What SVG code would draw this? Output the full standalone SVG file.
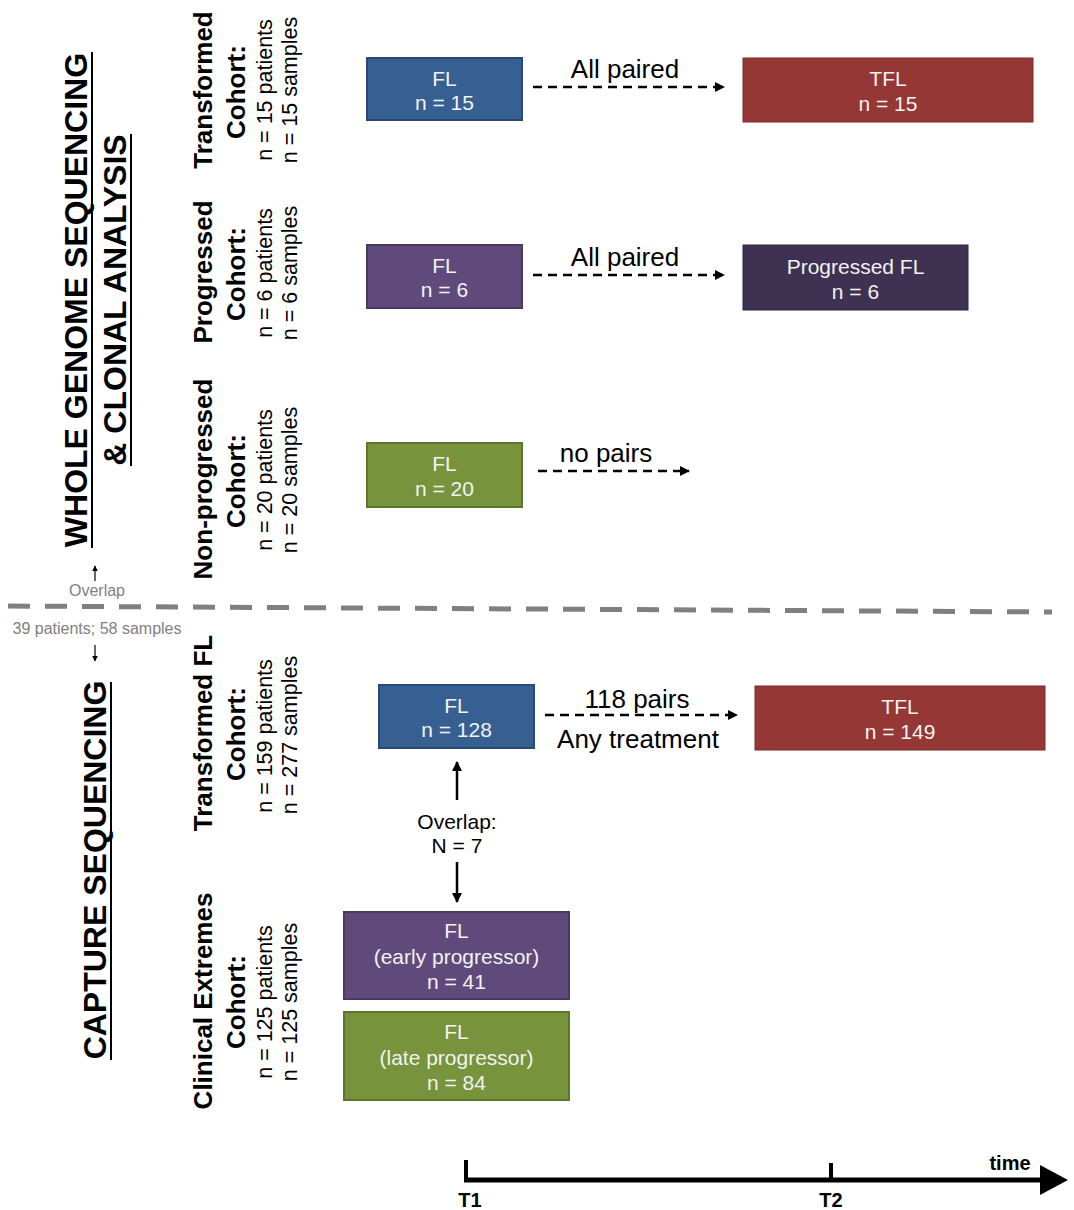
<svg xmlns="http://www.w3.org/2000/svg" width="1074" height="1210" viewBox="0 0 1074 1210">
<defs>
<style>
text{font-family:"Liberation Sans",Arial,sans-serif;}
.title{font-size:32px;font-weight:bold;fill:#000;text-anchor:middle;}
.coh{font-size:26px;font-weight:bold;fill:#000;text-anchor:middle;}
.cnt{font-size:21.5px;fill:#000;text-anchor:middle;}
.bt{font-size:21px;fill:#f2f2f2;text-anchor:middle;}
.lab{font-size:26px;fill:#000;text-anchor:middle;}
.gray{font-size:16px;fill:#808080;text-anchor:middle;}
.ov{font-size:21px;fill:#000;text-anchor:middle;}
.ax{font-size:20px;font-weight:bold;fill:#000;text-anchor:middle;}
.blue{fill:#376092;stroke:#2a4a73;stroke-width:2;}
.red{fill:#953735;stroke:#7f2c2a;stroke-width:1;}
.purple{fill:#604a7b;stroke:#4a3960;stroke-width:2;}
.dpurple{fill:#3f3151;stroke:#2f243d;stroke-width:1;}
.green{fill:#77933c;stroke:#5e752f;stroke-width:2;}
.dash{stroke:#000;stroke-width:2.5;stroke-dasharray:9 6;fill:none;}
.solid{stroke:#000;stroke-width:2.5;fill:none;}
.ul{stroke:#000;stroke-width:2;}
</style>
<marker id="ah" viewBox="0 0 10 10" refX="9" refY="5" markerWidth="4" markerHeight="4" orient="auto" markerUnits="strokeWidth">
<path d="M0,0 L10,5 L0,10 Z" fill="#000"/>
</marker>
<marker id="ahs" viewBox="0 0 10 10" refX="9" refY="5" markerWidth="5" markerHeight="5" orient="auto" markerUnits="strokeWidth">
<path d="M0,0 L10,5 L0,10 Z" fill="#000"/>
</marker>
</defs>

<g id="titles">
<text class="title" transform="translate(87,300) rotate(-90)">WHOLE GENOME SEQUENCING</text>
<line class="ul" x1="92" y1="548" x2="92" y2="52"/>
<text class="title" transform="translate(126,300) rotate(-90)">&amp; CLONAL ANALYSIS</text>
<line class="ul" x1="131" y1="466" x2="131" y2="134"/>
<text class="title" transform="translate(106,870) rotate(-90)">CAPTURE SEQUENCING</text>
<line class="ul" x1="111" y1="1060" x2="111" y2="682"/>
</g>

<g id="overlap-note">
<line x1="95" y1="581" x2="95" y2="566" stroke="#000" stroke-width="1.2" marker-end="url(#ahs)"/>
<text class="gray" x="97" y="596">Overlap</text>
<line x1="8" y1="606" x2="1052" y2="612" stroke="#808080" stroke-width="5" stroke-dasharray="22 15"/>
<text class="gray" x="97" y="634">39 patients; 58 samples</text>
<line x1="95" y1="645" x2="95" y2="661" stroke="#000" stroke-width="1.2" marker-end="url(#ahs)"/>
</g>

<g id="cohort-transformed">
<text class="coh" transform="translate(212,90) rotate(-90)">Transformed</text>
<text class="coh" transform="translate(245,92) rotate(-90)">Cohort:</text>
<text class="cnt" transform="translate(272,90) rotate(-90)">n = 15 patients</text>
<text class="cnt" transform="translate(297,90) rotate(-90)">n = 15 samples</text>
</g>
<g id="cohort-progressed">
<text class="coh" transform="translate(212,272) rotate(-90)">Progressed</text>
<text class="coh" transform="translate(245,274) rotate(-90)">Cohort:</text>
<text class="cnt" transform="translate(272,273) rotate(-90)">n = 6 patients</text>
<text class="cnt" transform="translate(297,273) rotate(-90)">n = 6 samples</text>
</g>
<g id="cohort-nonprogressed">
<text class="coh" transform="translate(212,479) rotate(-90)">Non-progressed</text>
<text class="coh" transform="translate(245,481) rotate(-90)">Cohort:</text>
<text class="cnt" transform="translate(272,480) rotate(-90)">n = 20 patients</text>
<text class="cnt" transform="translate(297,480) rotate(-90)">n = 20 samples</text>
</g>
<g id="cohort-transformedfl">
<text class="coh" transform="translate(212,733) rotate(-90)">Transformed FL</text>
<text class="coh" transform="translate(245,734) rotate(-90)">Cohort:</text>
<text class="cnt" transform="translate(272,736) rotate(-90)">n = 159 patients</text>
<text class="cnt" transform="translate(297,735) rotate(-90)">n = 277 samples</text>
</g>
<g id="cohort-clinical">
<text class="coh" transform="translate(212,1001) rotate(-90)">Clinical Extremes</text>
<text class="coh" transform="translate(245,1002) rotate(-90)">Cohort:</text>
<text class="cnt" transform="translate(272,1002) rotate(-90)">n = 125 patients</text>
<text class="cnt" transform="translate(297,1002) rotate(-90)">n = 125 samples</text>
</g>

<g id="fl15">
<rect class="blue" x="367" y="58" width="155" height="62"/>
<text class="bt" x="444.5" y="86">FL</text>
<text class="bt" x="444.5" y="110">n = 15</text>
</g>
<g id="tfl15">
<rect class="red" x="743" y="58" width="290" height="64"/>
<text class="bt" x="888" y="86">TFL</text>
<text class="bt" x="888" y="111">n = 15</text>
</g>
<g id="fl6">
<rect class="purple" x="367" y="245" width="155" height="63"/>
<text class="bt" x="444.5" y="273">FL</text>
<text class="bt" x="444.5" y="297">n = 6</text>
</g>
<g id="pfl6">
<rect class="dpurple" x="743" y="245" width="225" height="65"/>
<text class="bt" x="855.5" y="274">Progressed FL</text>
<text class="bt" x="855.5" y="299">n = 6</text>
</g>
<g id="fl20">
<rect class="green" x="367" y="443" width="155" height="64"/>
<text class="bt" x="444.5" y="471">FL</text>
<text class="bt" x="444.5" y="496">n = 20</text>
</g>
<g id="fl128">
<rect class="blue" x="379" y="685" width="155" height="63"/>
<text class="bt" x="456.5" y="713">FL</text>
<text class="bt" x="456.5" y="737">n = 128</text>
</g>
<g id="tfl149">
<rect class="red" x="755" y="686" width="290" height="64"/>
<text class="bt" x="900" y="714">TFL</text>
<text class="bt" x="900" y="739">n = 149</text>
</g>
<g id="fl-early">
<rect class="purple" x="344" y="912" width="225" height="87"/>
<text class="bt" x="456.5" y="938">FL</text>
<text class="bt" x="456.5" y="964">(early progressor)</text>
<text class="bt" x="456.5" y="989">n = 41</text>
</g>
<g id="fl-late">
<rect class="green" x="344" y="1012" width="225" height="88"/>
<text class="bt" x="456.5" y="1039">FL</text>
<text class="bt" x="456.5" y="1065">(late progressor)</text>
<text class="bt" x="456.5" y="1090">n = 84</text>
</g>

<g id="connectors">
<line class="dash" x1="533" y1="87" x2="724" y2="87" marker-end="url(#ah)"/>
<text class="lab" x="625" y="78">All paired</text>
<line class="dash" x1="533" y1="275" x2="724" y2="275" marker-end="url(#ah)"/>
<text class="lab" x="625" y="266">All paired</text>
<line class="dash" x1="538" y1="471" x2="689" y2="471" marker-end="url(#ah)"/>
<text class="lab" x="606" y="462">no pairs</text>
<line class="dash" x1="545" y1="715" x2="737" y2="715" marker-end="url(#ah)"/>
<text class="lab" x="637" y="708">118 pairs</text>
<text class="lab" x="638" y="748">Any treatment</text>
<line class="solid" x1="457" y1="800" x2="457" y2="762" marker-end="url(#ah)"/>
<text class="ov" x="457" y="829">Overlap:</text>
<text class="ov" x="457" y="853">N = 7</text>
<line class="solid" x1="457" y1="862" x2="457" y2="902" marker-end="url(#ah)"/>
</g>

<g id="time-axis">
<line x1="464" y1="1180" x2="1042" y2="1180" stroke="#000" stroke-width="5"/>
<path d="M1040,1165 L1068,1180 L1040,1195 Z" fill="#000"/>
<line x1="466" y1="1160" x2="466" y2="1182" stroke="#000" stroke-width="4"/>
<line x1="831" y1="1163" x2="831" y2="1182" stroke="#000" stroke-width="4"/>
<text class="ax" x="470" y="1207">T1</text>
<text class="ax" x="831" y="1207">T2</text>
<text class="ax" x="1010" y="1170">time</text>
</g>
</svg>
